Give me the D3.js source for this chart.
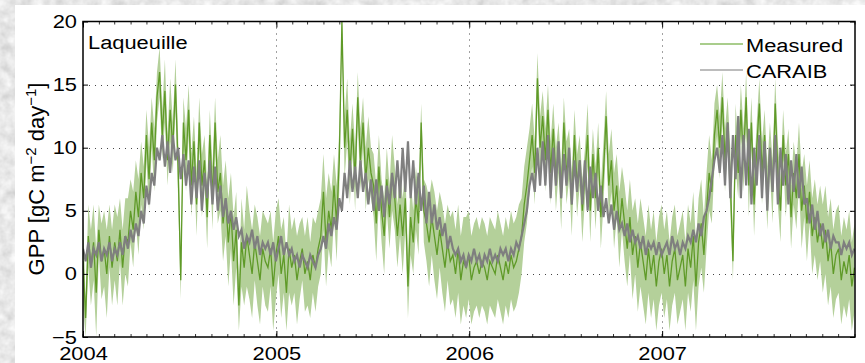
<!DOCTYPE html>
<html>
<head>
<meta charset="utf-8">
<script src="https://cdn.jsdelivr.net/npm/d3@7"></script>
<style>
  html, body { margin: 0; padding: 0; background: #d6d6d6; }
  svg { display: block; }
  text { font-family: "Liberation Sans", Arial, Helvetica, sans-serif; fill: #000; }
</style>
</head>
<body>
<div id="chart"></div>
<script>
// ─── Data (5-day steps from 1 Jan 2004) ───────────────────────────────────────
const START = Date.UTC(2004, 0, 1)
const STEP_DAYS = 5

const measured = [
  1, -3.5, 3, 0.5, 2.5, -1.5, 3.5, 1, 2, 0,
  3, 0.5, 2.5, 1, 3.5, 0.5, 3, 2.5, 5, 3.5,
  6.5, 4.5, 8, 6, 11, 7.5, 12, 9, 14, 16,
  11, 14.5, 9, 13, 10, 15, 8.5, -0.5, 12, 9,
  13, 7, 10.5, 5.5, 12, 7, 9, 4.5, 11, 6,
  12, 6.5, 8, 4, 6, 2.5, 5, 1, 3.5, -2.5,
  2.5, 0.5, 3, 1.5, 0, 2.5, 1, -0.5, 2, 1,
  0.5, 2, -1, 1.5, 3, 0, 1.5, -1.5, 2, 0.5,
  1.5, -0.5, 1, 2, 0, 1, -0.5, 1.5, 0.5, 2,
  3, 6.5, 2.5, 5, 3.5, 7, 4, 9, 20, 10,
  13, 8, 11.5, 7.5, 14, 9, 12, 7.5, 10, 8,
  7, 4, 8.5, 5, 3, 7.5, 4.5, 8, 6, 3,
  5.5, 3, 6, -1, 4.5, 2.5, 6, 4, 12, 5,
  4, 2.5, 4.5, 3, 1.5, 3.5, 2, 0.5, 2.5, 1,
  1.5, 0, 2, -0.5, 1, 0.5, 1.5, -0.5, 0.5, 1,
  0, 1, 0.5, -0.5, 1, 0.5, 0, 1.5, 0.5, -0.5,
  1, 0, 1.5, 0.5, 1, 2, 3, 5.5, 7, 9,
  11, 8, 15.5, 10, 12.5, 9, 13, 8, 11.5, 7.5,
  10, 6, 12, 8, 9.5, 5.5, 11, 7, 9, 5,
  8, 11, 5, 9.5, 6, 10, 4.5, 8, 12.5, 7,
  9, 5, 7, 3.5, 6, 4, 2, 4.5, 1.5, 3,
  0.5, 2.5, 1, -0.5, 2, 0, 1.5, -1, 1, 2,
  0, 1.5, -1, 1, 2, -0.5, 0.5, 1.5, -1, 2,
  0.5, 3, -1, 2.5, 4, 1.5, 5, 8, 6.5, 11,
  13, 10, 14, 9, 12, 7.5, 1, 11, 8, 13,
  9, 14, 7, 12, 5.5, 10, 13.5, 8, 11, 6,
  10, 6.5, 13.5, 8, 5, 11, 7, 9.5, 4.5, 8,
  6, 9.5, 5, 7, 4, 6.5, 3, 4.5, 2.5, 4,
  2, 3.5, 1, 2.5, 0, 1.5, 2, -0.5, 1, 0,
  1.5, -1, 0.5
]

// half-width of the measurement uncertainty band
const measuredErr = [
  3.5, 1.5, 2.5, 3, 3, 3.5, 2, 3, 3, 3.5,
  2.5, 3, 3, 3.5, 2.5, 3, 3, 3.5, 2.5, 3,
  2.5, 3, 2.5, 2.5, 2, 2.5, 2, 2.5, 2, 2,
  2, 2.5, 2, 2.5, 2, 2, 2.5, 1.5, 2, 2.5,
  2, 2.5, 2, 2.5, 2, 2.5, 2, 2.5, 2, 2.5,
  2, 2.5, 3, 3, 3, 3.5, 3, 3.5, 3, 2,
  3.5, 3, 4, 3.5, 3.5, 3, 3.5, 3.5, 3, 3.5,
  3.5, 3, 3.5, 3.5, 3, 3.5, 3, 3, 3.5, 3,
  3, 3.5, 3, 2.5, 3, 3.5, 3, 3, 3.5, 3,
  3, 3, 3.5, 3, 3, 2.5, 3, 2.5, 0.5, 2.5,
  2.5, 2.5, 2, 2.5, 2, 2.5, 2, 2.5, 2.5, 2,
  2.5, 3, 2.5, 2.5, 3, 2.5, 2.5, 3, 2.5, 2.5,
  2.5, 3, 2.5, 2.5, 3, 2.5, 2.5, 2.5, 1.5, 2.5,
  3, 3.5, 3, 3.5, 3.5, 3, 3.5, 3.5, 3, 3.5,
  3.5, 3.5, 3.5, 3.5, 3.5, 4, 3.5, 3.5, 3.5, 3.5,
  3.5, 3.5, 3.5, 3.5, 3.5, 3.5, 3.5, 3.5, 3.5, 3.5,
  3.5, 3.5, 3.5, 3.5, 3.5, 3.5, 3, 3, 3, 2.5,
  2.5, 2.5, 2, 2.5, 2, 2.5, 2, 2.5, 2, 2.5,
  2, 2.5, 2, 2.5, 2, 2.5, 2, 2.5, 2, 2.5,
  2, 2.5, 2.5, 2, 2.5, 2, 2.5, 2.5, 2, 2.5,
  2.5, 3, 2.5, 3, 2.5, 3, 3, 3, 3.5, 3,
  3.5, 3.5, 3.5, 3.5, 3.5, 3.5, 3.5, 3.5, 3.5, 3.5,
  3.5, 3.5, 3.5, 3.5, 3.5, 3.5, 3.5, 3.5, 3.5, 3.5,
  3.5, 3.5, 3.5, 3.5, 3.5, 3, 3, 3, 2.5, 2.5,
  2, 2.5, 2, 2.5, 2, 2.5, 1.5, 2.5, 2, 2,
  2.5, 2, 2.5, 2, 2.5, 2, 2, 2.5, 2, 2.5,
  2, 2.5, 2, 2.5, 2.5, 2, 2.5, 2, 2.5, 2.5,
  2.5, 2.5, 3, 2.5, 3, 2.5, 3, 3, 3, 3,
  3.5, 3.5, 3.5, 3.5, 3.5, 3.5, 3.5, 3.5, 3.5, 3.5,
  3.5, 3.5, 3.5
]

const caraib = [
  2, 1, 2.5, 0.5, 2, 1.5, 2.5, 1, 2, 1.5,
  2.5, 1, 2, 1.5, 2.5, 1.5, 3, 2, 3.5, 2.5,
  4, 3, 5, 4, 7, 5.5, 8, 7, 10, 9,
  11, 8.5, 10.5, 8, 11, 9, 10, 7.5, 9.5, 7,
  9, 5.5, 8.5, 6, 9, 5, 8, 6, 9, 5.5,
  8.5, 5, 7, 4.5, 6, 4, 5, 3.5, 4.5, 3,
  3.5, 2, 3, 2.5, 3.5, 2, 3, 1.5, 2.5, 2,
  2.5, 1.5, 2.5, 1, 2, 3, 1.5, 2.5, 1.5, 2,
  1, 1.5, 0.5, 1.5, 1, 0.5, 1.5, 1, 0.5, 1.5,
  2, 3, 2, 4, 3, 4.5, 3.5, 6, 5, 8,
  6, 9, 6.5, 8.5, 6, 9, 6.5, 8, 5.5, 7.5,
  5, 7.5, 5, 7, 4.5, 7, 5.5, 8, 6, 9,
  6, 10, 6.5, 10.5, 6, 9, 5.5, 8, 5, 7,
  4, 6.5, 4, 5.5, 3.5, 4.5, 3, 4, 2, 3,
  2, 1.5, 2, 1, 1.5, 0.5, 1.5, 1, 2, 1,
  1.5, 0.5, 1.5, 1, 2, 1, 1.5, 1, 2, 1.5,
  2, 1, 2, 1.5, 2.5, 2, 3, 4, 5, 7,
  8, 6.5, 10, 7, 10.5, 7, 11, 6, 10, 7,
  10.5, 6, 9.5, 7, 10, 5.5, 9, 6.5, 9, 5.5,
  9, 5, 8.5, 6, 8, 5, 7, 4.5, 6, 4,
  5.5, 3.5, 5, 3.5, 4, 3, 4, 2.5, 3.5, 2.5,
  3, 2, 3, 1.5, 2.5, 2, 2.5, 1.5, 2.5, 1.5,
  2, 2.5, 1.5, 3, 2, 2.5, 1.5, 2.5, 2, 3,
  2.5, 3.5, 2.5, 4, 3, 4.5, 5, 6, 7.5, 9,
  10, 8, 11, 7, 12, 6, 11, 7.5, 12.5, 6,
  11, 7, 11.5, 5.5, 10, 7, 11, 6, 10.5, 5,
  10, 6.5, 11, 5.5, 10, 7, 9.5, 5.5, 9, 6.5,
  9.5, 6, 8.5, 5.5, 6, 4, 5.5, 3.5, 5, 3,
  4, 2.5, 3.5, 2, 3, 2.5, 2.5, 1.5, 2.5, 2,
  2.5, 1.5, 2
]

const yTicks = [-5, 0, 5, 10, 15, 20]
const yGrid = [0, 5, 10, 15]
const yearTicks = [2004, 2005, 2006, 2007]
const yearGrid = [2005, 2006, 2007]
const seriesNames = ['Measured', 'CARAIB']
const siteName = 'Laqueuille'

// ─── Layout ───────────────────────────────────────────────────────────────────
const W = 865, H = 363
const plot = { left: 83, right: 855, top: 21.5, bottom: 337 }
const TEXT_STRETCH = 1.15
const FONT = 19

const COLOR = {
  band: '#b4d09a',
  measured: '#5f9a28',
  caraib: '#7f7f7f',
  legendMeasured: '#8cbc66',
  legendCaraib: '#a6a6a6',
  grid: '#444',
}

const svg = d3.select('#chart').append('svg')
  .attr('width', W).attr('height', H)
  .attr('viewBox', `0 0 ${W} ${H}`)

// textured grey backdrop
const defs = svg.append('defs')
const tex = defs.append('filter').attr('id', 'marble')
  .attr('x', 0).attr('y', 0).attr('width', '100%').attr('height', '100%')
tex.append('feTurbulence')
  .attr('type', 'fractalNoise').attr('baseFrequency', 0.09)
  .attr('numOctaves', 3).attr('seed', 4)
tex.append('feColorMatrix').attr('type', 'matrix')
  .attr('values', '0.45 0 0 0 0.58  0.45 0 0 0 0.58  0.45 0 0 0 0.58  0 0 0 0 1')

defs.append('clipPath').attr('id', 'plotclip')
  .append('rect')
  .attr('x', plot.left).attr('y', plot.top)
  .attr('width', plot.right - plot.left).attr('height', plot.bottom - plot.top)

svg.append('rect').attr('width', W).attr('height', H).attr('filter', 'url(#marble)')
svg.append('rect').attr('x', 15).attr('y', 5).attr('width', W - 15).attr('height', H - 5)
  .attr('fill', '#fff')

// ─── Scales ───────────────────────────────────────────────────────────────────
const x = d3.scaleUtc()
  .domain([new Date(Date.UTC(2004, 0, 1)), new Date(Date.UTC(2008, 0, 1))])
  .range([plot.left, plot.right])
const y = d3.scaleLinear().domain([-5, 20]).range([plot.bottom, plot.top])

const dateAt = i => new Date(START + i * STEP_DAYS * 864e5)
const rows = measured.map((m, i) => ({
  date: dateAt(i), m, err: measuredErr[i], c: caraib[i],
}))

// ─── Grid ─────────────────────────────────────────────────────────────────────
const grid = svg.append('g')
  .attr('stroke', COLOR.grid).attr('stroke-width', 1).attr('stroke-dasharray', '1,5')
grid.selectAll('line.h').data(yGrid).join('line').attr('class', 'h')
  .attr('x1', plot.left).attr('x2', plot.right)
  .attr('y1', d => Math.round(y(d)) + 0.5).attr('y2', d => Math.round(y(d)) + 0.5)
grid.selectAll('line.v').data(yearGrid).join('line').attr('class', 'v')
  .attr('y1', plot.top).attr('y2', plot.bottom)
  .attr('x1', d => Math.round(x(new Date(Date.UTC(d, 0, 1)))) + 0.5)
  .attr('x2', d => Math.round(x(new Date(Date.UTC(d, 0, 1)))) + 0.5)

// ─── Series ───────────────────────────────────────────────────────────────────
const series = svg.append('g').attr('clip-path', 'url(#plotclip)')

series.append('path').datum(rows)
  .attr('fill', COLOR.band)
  .attr('d', d3.area()
    .x(d => x(d.date))
    .y0(d => y(d.m - d.err))
    .y1(d => y(d.m + d.err)))

series.append('path').datum(rows)
  .attr('fill', 'none').attr('stroke', COLOR.measured).attr('stroke-width', 1.3)
  .attr('d', d3.line().x(d => x(d.date)).y(d => y(d.m)))

series.append('path').datum(rows)
  .attr('fill', 'none').attr('stroke', COLOR.caraib).attr('stroke-width', 2.2)
  .attr('d', d3.line().x(d => x(d.date)).y(d => y(d.c)))

// ─── Axes ─────────────────────────────────────────────────────────────────────
const stretch = sel => sel.each(function () {
  const t = d3.select(this)
  const tx = +t.attr('x') || 0
  t.attr('x', tx / TEXT_STRETCH).attr('transform', `scale(${TEXT_STRETCH},1)`)
})

const yAxis = svg.append('g').attr('transform', `translate(${plot.left},0)`)
  .call(d3.axisLeft(y).tickValues(yTicks).tickSize(-5).tickPadding(6)
    .tickFormat(d3.format('d')))
yAxis.select('.domain').remove()
yAxis.selectAll('text').attr('font-size', FONT).attr('font-family', null).call(stretch)

svg.append('g').attr('transform', `translate(${plot.right},0)`)
  .call(d3.axisRight(y).tickValues(yTicks).tickSize(-5).tickFormat(''))
  .call(g => g.select('.domain').remove())

const yearDates = yearTicks.map(d => new Date(Date.UTC(d, 0, 1)))
const xAxis = svg.append('g').attr('transform', `translate(0,${plot.bottom})`)
  .call(d3.axisBottom(x).tickValues(yearDates).tickSize(-6).tickPadding(9)
    .tickFormat(d3.utcFormat('%Y')))
xAxis.select('.domain').remove()
xAxis.selectAll('text').attr('font-size', FONT).attr('font-family', null)
  .attr('dy', '0.72em').call(stretch)

svg.append('g').attr('transform', `translate(0,${plot.top})`)
  .call(d3.axisTop(x).tickValues(yearDates).tickSize(-6).tickFormat(''))
  .call(g => g.select('.domain').remove())

// monthly minor ticks, top and bottom
const months = x.ticks(d3.utcMonth.every(1))
const minor = svg.append('g').attr('stroke', '#000').attr('stroke-width', 0.8)
minor.selectAll('line.b').data(months).join('line').attr('class', 'b')
  .attr('x1', d => x(d)).attr('x2', d => x(d))
  .attr('y1', plot.bottom).attr('y2', plot.bottom - 3)
minor.selectAll('line.t').data(months).join('line').attr('class', 't')
  .attr('x1', d => x(d)).attr('x2', d => x(d))
  .attr('y1', plot.top).attr('y2', plot.top + 3)

// box
svg.append('rect')
  .attr('x', plot.left).attr('y', plot.top)
  .attr('width', plot.right - plot.left).attr('height', plot.bottom - plot.top)
  .attr('fill', 'none').attr('stroke', '#000').attr('stroke-width', 1.5)

// ─── Labels ───────────────────────────────────────────────────────────────────
svg.append('text')
  .attr('x', 88 / TEXT_STRETCH).attr('y', 49)
  .attr('transform', `scale(${TEXT_STRETCH},1)`)
  .attr('font-size', FONT)
  .text(siteName)

const yl = svg.append('text')
  .attr('transform', 'translate(44,179) rotate(-90)')
  .attr('text-anchor', 'middle')
  .attr('font-size', 22)
yl.append('tspan').text('GPP [gC m')
yl.append('tspan').attr('font-size', 15).attr('dy', -8).text('−2')
yl.append('tspan').attr('dy', 8).text(' day')
yl.append('tspan').attr('font-size', 15).attr('dy', -8).text('−1')
yl.append('tspan').attr('dy', 8).text(']')

// ─── Legend ───────────────────────────────────────────────────────────────────
const legend = svg.append('g')
const legendColors = [COLOR.legendMeasured, COLOR.legendCaraib]
seriesNames.forEach((name, i) => {
  const ly = 44 + i * 26
  legend.append('line')
    .attr('x1', 700).attr('x2', 743).attr('y1', ly).attr('y2', ly)
    .attr('stroke', legendColors[i]).attr('stroke-width', 1.5)
  legend.append('text')
    .attr('x', 746 / TEXT_STRETCH).attr('y', ly + 8)
    .attr('transform', `scale(${TEXT_STRETCH},1)`)
    .attr('font-size', FONT)
    .text(name)
})
</script>
</body>
</html>
